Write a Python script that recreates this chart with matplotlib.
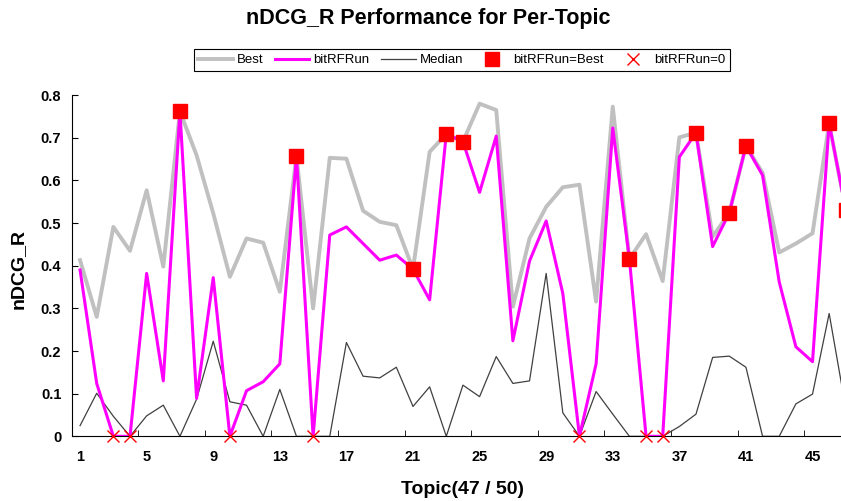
import numpy as np
import matplotlib.pyplot as plt

plt.rcParams['font.family'] = ['Liberation Sans', 'DejaVu Sans']

# per-topic nDCG_R values (topics 1..47 visible)
topics = np.arange(1, 48)
best = [0.413, 0.280, 0.491, 0.435, 0.577, 0.398, 0.762, 0.659, 0.523, 0.374,
        0.464, 0.454, 0.339, 0.657, 0.300, 0.653, 0.651, 0.529, 0.503, 0.495,
        0.392, 0.667, 0.709, 0.691, 0.780, 0.765, 0.304, 0.464, 0.538, 0.584,
        0.590, 0.316, 0.773, 0.416, 0.474, 0.364, 0.701, 0.712, 0.468, 0.524,
        0.681, 0.618, 0.431, 0.452, 0.476, 0.734, 0.530]
run = [0.390, 0.124, 0.0, 0.0, 0.382, 0.130, 0.762, 0.089, 0.372, 0.0,
       0.107, 0.128, 0.170, 0.657, 0.0, 0.472, 0.491, 0.452, 0.413, 0.425,
       0.392, 0.320, 0.709, 0.691, 0.572, 0.704, 0.224, 0.411, 0.505, 0.335,
       0.0, 0.170, 0.723, 0.416, 0.0, 0.0, 0.655, 0.712, 0.445, 0.524,
       0.681, 0.612, 0.362, 0.210, 0.175, 0.734, 0.530]
median = [0.025, 0.101, 0.047, 0.0, 0.048, 0.073, 0.0, 0.087, 0.223, 0.081,
          0.073, 0.0, 0.110, 0.0, 0.0, 0.0, 0.220, 0.141, 0.137, 0.162,
          0.070, 0.116, 0.0, 0.120, 0.093, 0.187, 0.124, 0.130, 0.382, 0.055,
          0.0, 0.105, 0.052, 0.0, 0.0, 0.0, 0.023, 0.052, 0.185, 0.188,
          0.162, 0.0, 0.0, 0.076, 0.099, 0.288, 0.065]
n_total = 50

best = np.array(best)
run = np.array(run)
median = np.array(median)
eq = (run == best) & (run > 0)
zero = run == 0

fig = plt.figure(figsize=(8.41, 5.01), dpi=100)
# axes runs past the right edge, like the cropped original
ax = fig.add_axes([0.0853, 0.1291, 0.9897, 0.681])

ax.plot(topics, best, color='#C0C0C0', lw=2.8, label='Best', zorder=2)
ax.plot(topics, run, color='#FF00FF', lw=2.2, label='bitRFRun', zorder=4)
ax.plot(topics, median, color='#404040', lw=0.9, label='Median', zorder=3)
ax.plot(topics[eq], run[eq], 's', color='#FF0000', ms=10.5, ls='none',
        label='bitRFRun=Best', zorder=5)
ax.plot(topics[zero], run[zero], 'x', color='#FF0000', ms=9, mew=1,
        ls='none', label='bitRFRun=0', zorder=5, clip_on=False)

ax.set_xlim(0.5, n_total + 0.5)
ax.set_ylim(0, 0.8)
ax.spines['top'].set_visible(False)
ax.spines['right'].set_visible(False)

ax.set_xticks(np.arange(1, len(topics) + 1, 4))
ax.set_xticks(np.arange(4.5, n_total + 1, 4), minor=True)
ax.tick_params(axis='x', which='major', length=0, pad=10)
ax.tick_params(axis='x', which='minor', length=4, direction='in')
ax.set_yticks(np.arange(0, 0.81, 0.1))
ax.set_yticklabels(['0'] + ['%.1f' % v for v in np.arange(0.1, 0.81, 0.1)])
ax.tick_params(axis='y', length=4, direction='in', pad=7.5)
for lab in ax.get_xticklabels() + ax.get_yticklabels():
    lab.set_fontweight('bold')
    lab.set_fontsize(10.5)

fig.text(0.509, 0.963, 'nDCG_R Performance for Per-Topic', ha='center',
         va='center', fontsize=15.5, fontweight='bold')
fig.text(0.550, 0.023, 'Topic(47 / 50)', ha='center', va='center',
         fontsize=14, fontweight='bold')
fig.text(0.0214, 0.463, 'nDCG_R', ha='center', va='center', rotation=90,
         fontsize=14, fontweight='bold')

leg = fig.legend(loc='center', bbox_to_anchor=(0.549, 0.880), ncol=5,
                 fontsize=9.5, frameon=True, fancybox=False, framealpha=1,
                 edgecolor='black', handlelength=2.6, columnspacing=0.9,
                 handletextpad=0.3, borderpad=0.35)
leg.get_frame().set_linewidth(0.8)

plt.savefig('out.png', dpi=100)
